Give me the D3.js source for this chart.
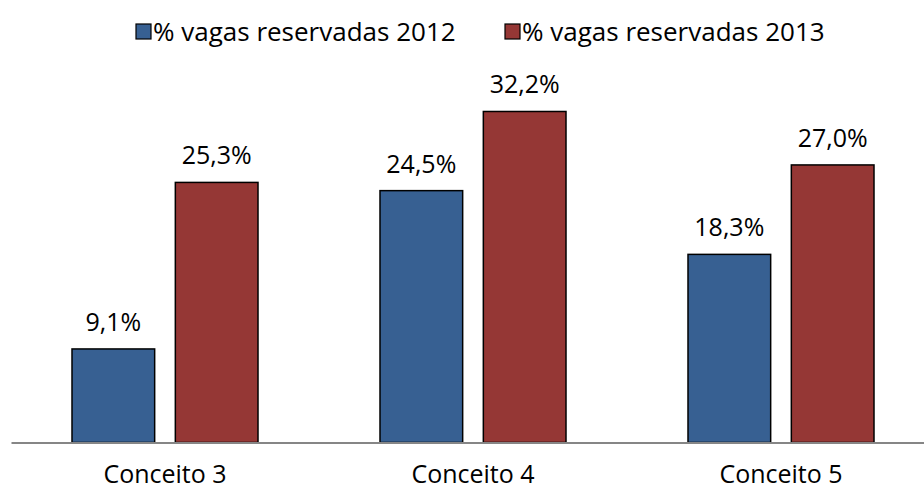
<!DOCTYPE html>
<html>
<head>
<meta charset="utf-8">
<script src="https://cdn.jsdelivr.net/npm/d3@7"></script>
<style>
  body { margin: 0; background: #fff; }
  text { font-family: "Open Sans", "Noto Sans", sans-serif; fill: #000; }
</style>
</head>
<body>
<svg id="chart" width="924" height="493"></svg>
<script>
// data
var categories = ["Conceito 3", "Conceito 4", "Conceito 5"];
var seriesNames = ["% vagas reservadas 2012", "% vagas reservadas 2013"];
var values2012 = [9.1, 24.5, 18.3];
var values2013 = [25.3, 32.2, 27.0];
var colors = ["#376092", "#953735"];

var svg = d3.select("#chart");

var baseY = 442.5;

// x band for categories, inner band for the two series
var xScale = d3.scaleBand().domain(categories).range([11, 935]).padding(0);
var xInner = d3.scaleBand().domain([0, 1]).range([61, 247]).paddingInner(0.2);
var yScale = d3.scaleLinear().domain([0, 40]).range([baseY, baseY - 411.2]);

var rows = categories.map(function(c, i) {
  return { cat: c, vals: [values2012[i], values2013[i]] };
});

var groups = svg.selectAll(".grp")
  .data(rows)
  .enter()
  .append("g")
  .attr("class", "grp")
  .attr("transform", function(d) { return "translate(" + xScale(d.cat) + ",0)"; });

groups.selectAll("rect")
  .data(function(d) { return d.vals; })
  .enter()
  .append("rect")
  .attr("x", function(d, i) { return xInner(i); })
  .attr("y", function(d) { return yScale(d); })
  .attr("width", xInner.bandwidth())
  .attr("height", function(d) { return baseY - yScale(d); })
  .style("fill", function(d, i) { return colors[i]; })
  .style("stroke", "#000")
  .style("stroke-width", 1.5);

groups.selectAll(".lbl")
  .data(function(d) { return d.vals; })
  .enter()
  .append("text")
  .attr("class", "lbl")
  .attr("x", function(d, i) { return xInner(i) + xInner.bandwidth() / 2; })
  .attr("y", function(d) { return yScale(d) - 18; })
  .attr("text-anchor", "middle")
  .style("font-size", "25px")
  .text(function(d) { return d.toFixed(1).replace(".", ",") + "%"; });

// x axis
var xAxis = d3.axisBottom(xScale).tickSize(0).tickPadding(0);
var axisG = svg.append("g")
  .attr("transform", "translate(0," + baseY + ")")
  .call(xAxis);
axisG.select(".domain").attr("stroke", "#868686").attr("stroke-width", 2);
axisG.selectAll("text")
  .style("font-size", "25px")
  .style("font-family", "'Open Sans', 'Noto Sans', sans-serif")
  .attr("y", 40)
  .attr("dy", "0");

// legend
var legendX = [136, 505];
var legend = svg.selectAll(".legend")
  .data(seriesNames)
  .enter()
  .append("g")
  .attr("class", "legend")
  .attr("transform", function(d, i) { return "translate(" + legendX[i] + ",24)"; });
legend.append("rect")
  .attr("width", 15).attr("height", 15)
  .style("fill", function(d, i) { return colors[i]; })
  .style("stroke", "#000").style("stroke-width", 1.2);
legend.append("text")
  .attr("x", 17).attr("y", 8)
  .attr("dy", "0.35em")
  .style("font-size", "26px")
  .text(function(d) { return d; });
</script>
</body>
</html>
